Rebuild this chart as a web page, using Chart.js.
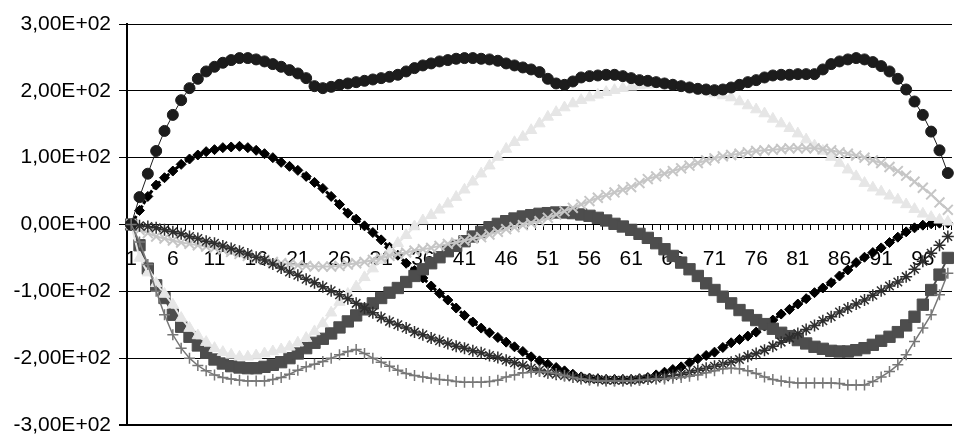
<!DOCTYPE html>
<html>
<head>
<meta charset="utf-8">
<script src="https://cdn.jsdelivr.net/npm/chart.js@4/dist/chart.umd.min.js"></script>
<style>
  html, body { margin: 0; padding: 0; background: #fff; }
  canvas { display: block; }
</style>
</head>
<body>
<canvas id="grafico" width="961" height="434"></canvas>
<script>
// categorias 1..99
var categorias = [];
for (var n = 1; n <= 99; n++) categorias.push(String(n));

var yTicks = [-300, -200, -100, 0, 100, 200, 300];

// serie com losangos (tracejada)
var losangos = [
  0, 21, 42, 59, 70, 80, 90, 98, 104, 109,
  112, 115, 116, 117, 115, 111, 106, 100, 93, 87,
  81, 72, 63, 54, 42, 30, 17, 8, -2, -12,
  -23, -34, -46, -58, -69, -80, -92, -103, -113, -125,
  -136, -146, -155, -162, -169, -176, -183, -190, -198, -204,
  -209, -214, -219, -224, -228, -230, -231, -232, -232, -232,
  -232, -231, -229, -225, -221, -217, -213, -207, -201, -196,
  -191, -184, -177, -172, -167, -161, -152, -143, -134, -127,
  -119, -111, -102, -95, -87, -77, -68, -57, -49, -42,
  -35, -27, -19, -11, -5, -1, 1, 2, 2
];
// quadrados
var quadrados = [
  0, -31, -66, -91, -110, -135, -153, -168, -181, -192,
  -202, -208, -212, -214, -215, -215, -213, -210, -206, -200,
  -193, -185, -177, -171, -163, -154, -145, -136, -127, -118,
  -110, -102, -95, -86, -77, -67, -58, -49, -40, -32,
  -25, -18, -11, -4, 1, 5, 9, 12, 14, 16,
  17, 18, 18, 17, 15, 13, 10, 6, 1, -3,
  -8, -14, -20, -28, -37, -47, -57, -67, -77, -88,
  -98, -108, -118, -128, -136, -143, -149, -156, -162, -167,
  -173, -178, -183, -186, -189, -190, -190, -188, -185, -180,
  -174, -168, -161, -151, -138, -120, -98, -75, -50
];
// triangulos
var triangulos = [
  0, -50, -72, -88, -104, -120, -140, -155, -166, -176,
  -185, -191, -195, -198, -198, -196, -193, -190, -187, -183,
  -177, -170, -160, -148, -132, -116, -104, -93, -79, -66,
  -53, -41, -28, -16, -3, 6, 14, 22, 31, 41,
  52, 64, 76, 88, 101, 113, 123, 131, 141, 151,
  161, 168, 175, 181, 186, 190, 194, 198, 201, 204,
  206, 208, 209, 210, 210, 209, 207, 205, 202, 199,
  196, 193, 190, 184, 178, 172, 166, 158, 151, 144,
  136, 127, 118, 110, 101, 92, 82, 72, 62, 55,
  49, 43, 37, 30, 23, 16, 11, 7, 4
];
// xis
var xis = [
  0, -8, -13, -18, -21, -24, -27, -29, -31, -33,
  -35, -38, -41, -44, -47, -50, -53, -56, -58, -59,
  -61, -62, -63, -63, -63, -62, -60, -58, -56, -53,
  -50, -47, -44, -42, -39, -37, -35, -32, -29, -27,
  -24, -21, -19, -15, -11, -7, -4, -1, 2, 5,
  10, 15, 20, 25, 30, 35, 40, 44, 48, 52,
  56, 62, 68, 72, 76, 80, 84, 88, 92, 96,
  99, 102, 104, 106, 108, 110, 111, 112, 113, 114,
  114, 114, 114, 113, 111, 108, 106, 103, 100, 96,
  92, 86, 80, 73, 64, 55, 45, 33, 22
];
// asteriscos
var asteriscos = [
  0, -2, -3, -5, -8, -11, -14, -18, -21, -25,
  -28, -32, -36, -40, -44, -49, -53, -59, -65, -71,
  -76, -82, -87, -93, -99, -105, -111, -118, -125, -132,
  -139, -145, -150, -155, -161, -165, -170, -174, -178, -182,
  -185, -189, -192, -196, -199, -203, -207, -211, -215, -218,
  -222, -224, -226, -228, -230, -231, -232, -233, -233, -233,
  -233, -232, -231, -230, -228, -226, -224, -221, -218, -215,
  -212, -209, -206, -202, -197, -193, -188, -182, -176, -170,
  -163, -157, -151, -144, -138, -131, -125, -119, -113, -106,
  -99, -92, -86, -78, -67, -55, -43, -31, -18
];
// circulos
var circulos = [
  0, 41, 76, 110, 140, 164, 186, 204, 218, 229,
  236, 242, 246, 249, 249, 247, 244, 240, 236, 231,
  226, 219, 207, 204, 206, 209, 211, 213, 215, 217,
  219, 221, 224, 229, 234, 238, 241, 244, 246, 248,
  249, 249, 248, 247, 245, 241, 238, 235, 232, 228,
  218, 211, 209, 214, 220, 222, 223, 224, 224, 222,
  219, 216, 215, 213, 211, 209, 207, 205, 203, 202,
  201, 202, 205, 209, 213, 216, 220, 223, 224, 224,
  225, 225, 225, 232, 240, 244, 247, 249, 247, 243,
  237, 229, 218, 202, 184, 164, 139, 111, 77
];
// cruzes
var cruzes = [
  0, -26, -60, -100, -135, -165, -185, -200, -211, -219,
  -225, -229, -231, -233, -234, -234, -234, -232, -229, -224,
  -218, -213, -209, -205, -200, -195, -190, -187, -193, -200,
  -206, -212, -218, -223, -226, -228, -230, -232, -233, -235,
  -236, -236, -236, -235, -233, -228, -225, -222, -221, -220,
  -221, -223, -226, -229, -231, -233, -234, -234, -234, -234,
  -234, -233, -232, -231, -231, -230, -229, -227, -225, -222,
  -219, -216, -215, -216, -219, -223, -228, -232, -234, -236,
  -237, -237, -237, -237, -237, -238, -240, -240, -240, -235,
  -228, -220, -210, -195, -175, -155, -135, -105, -73
];

var fonte = { family: "'Liberation Sans', Arial, sans-serif", size: 21 };

function cientifico(v) {
  if (v === 0) return '0,00E+00';
  var e = Math.floor(Math.log10(Math.abs(v)));
  var m = v / Math.pow(10, e);
  return m.toFixed(2).replace('.', ',') + 'E' + (e < 0 ? '-' : '+') + String(Math.abs(e)).padStart(2, '0');
}

function serie(dados, estilo, raio, cor, linha, extra) {
  var d = {
    data: dados,
    pointStyle: estilo,
    pointRadius: raio,
    pointBackgroundColor: cor,
    pointBorderColor: cor,
    pointBorderWidth: 1,
    borderColor: cor,
    borderWidth: linha,
    fill: false,
    tension: 0
  };
  for (var k in extra) d[k] = extra[k];
  return d;
}

// ordem do Excel: a ultima serie fica por cima
var series = [
  serie(losangos, 'rectRot', 5, '#000000', 3, { borderDash: [4, 2] }),
  serie(quadrados, 'rect', 8, '#4d4d4d', 2, {}),
  serie(triangulos, 'triangle', 6.5, '#e6e6e6', 2, {}),
  serie(xis, 'crossRot', 7, '#c6c6c6', 2, { pointBorderWidth: 2 }),
  serie(asteriscos, 'star', 6, '#2e2e2e', 1, { pointBorderWidth: 1.5 }),
  serie(circulos, 'circle', 5.5, '#1c1c1c', 1, {}),
  serie(cruzes, 'cross', 5.5, '#777777', 1.5, { pointBorderWidth: 1.5 })
];
series.forEach(function (s, i) { s.order = series.length - i; });

var ctx = document.getElementById('grafico').getContext('2d');
new Chart(ctx, {
  type: 'line',
  data: { labels: categorias, datasets: series },
  options: {
    responsive: false,
    animation: false,
    layout: { padding: { top: 24, bottom: 9, left: 0, right: 0 } },
    plugins: { legend: { display: false }, tooltip: { enabled: false } },
    scales: {
      x: {
        position: { y: 0 },
        offset: true,
        afterFit: function (s) { s.paddingLeft = 0; s.paddingRight = 0; },
        grid: { offset: true, drawOnChartArea: false, tickLength: 5, color: '#000' },
        border: { color: '#000', width: 1 },
        ticks: {
          autoSkip: false,
          maxRotation: 0,
          padding: 17,
          color: '#000',
          font: fonte,
          callback: function (v, i) { return i % 5 === 0 ? categorias[i] : ''; }
        }
      },
      y: {
        min: yTicks[0],
        max: yTicks[yTicks.length - 1],
        afterBuildTicks: function (s) { s.ticks = yTicks.map(function (v) { return { value: v }; }); },
        afterFit: function (s) { s.width = 127; s.paddingTop = 0; s.paddingBottom = 0; },
        grid: {
          color: '#000',
          tickLength: 8,
          lineWidth: function (c) { return c.tick && c.tick.value === -300 ? 2 : 1; }
        },
        border: { color: '#000', width: 2 },
        ticks: { padding: 8, color: '#000', font: fonte, callback: cientifico }
      }
    }
  }
});
</script>
</body>
</html>
